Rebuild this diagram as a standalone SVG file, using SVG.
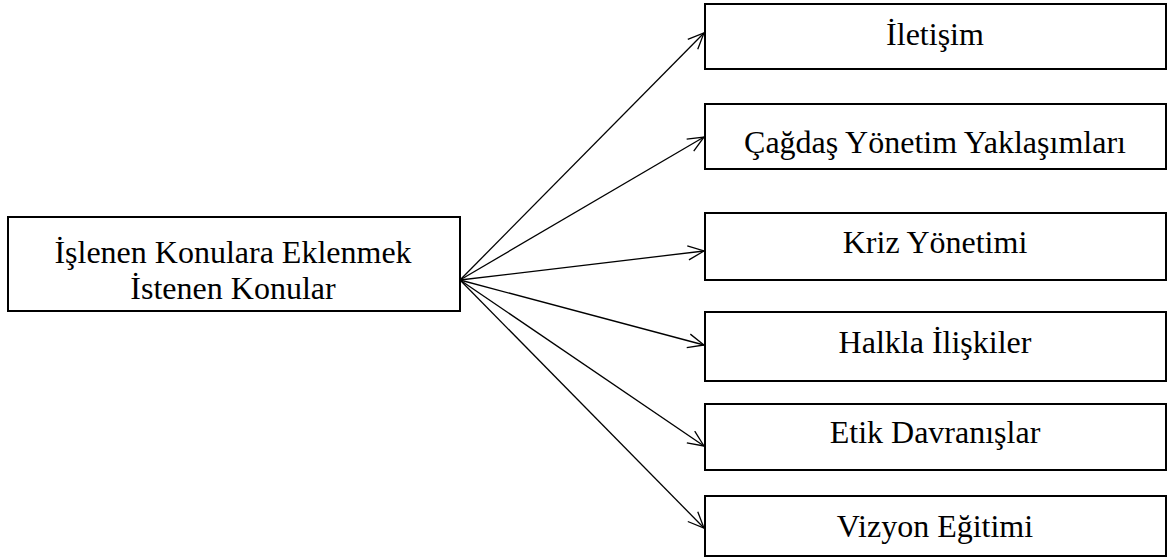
<svg xmlns="http://www.w3.org/2000/svg" width="1168" height="558" viewBox="0 0 1168 558">
<style>
.box{fill:#fff;stroke:#000;stroke-width:2}
.t{font-family:"Liberation Serif","Times New Roman",serif;font-size:32px;fill:#000;text-anchor:middle}
.c{stroke:#000;stroke-width:1.3;fill:none}
</style>
<defs>
<marker id="ah" viewBox="0 0 18 16" refX="17" refY="8" markerWidth="18" markerHeight="16" markerUnits="userSpaceOnUse" orient="auto">
<polyline points="1,1 17,8 1,15" fill="none" stroke="#000" stroke-width="1.3"/>
</marker>
</defs>
<rect width="1168" height="558" fill="#fff"/>
<g id="connectors">
<line class="c" x1="460" y1="280" x2="704" y2="33" marker-end="url(#ah)"/>
<line class="c" x1="460" y1="280" x2="704" y2="137" marker-end="url(#ah)"/>
<line class="c" x1="460" y1="280" x2="704" y2="251" marker-end="url(#ah)"/>
<line class="c" x1="460" y1="280" x2="704" y2="345" marker-end="url(#ah)"/>
<line class="c" x1="460" y1="280" x2="704" y2="446" marker-end="url(#ah)"/>
<line class="c" x1="460" y1="280" x2="704" y2="528" marker-end="url(#ah)"/>
</g>
<g id="source">
<rect class="box" x="8" y="217" width="452" height="94"/>
<text class="t" x="233" y="262.5">İşlenen Konulara Eklenmek</text>
<text class="t" x="233" y="298.5">İstenen Konular</text>
</g>
<g id="n1">
<rect class="box" x="705" y="4" width="461" height="65"/>
<text class="t" x="935" y="45">İletişim</text>
</g>
<g id="n2">
<rect class="box" x="705" y="104" width="461" height="65"/>
<text class="t" x="935" y="153">Çağdaş Yönetim Yaklaşımları</text>
</g>
<g id="n3">
<rect class="box" x="705" y="213" width="461" height="67"/>
<text class="t" x="935" y="253">Kriz Yönetimi</text>
</g>
<g id="n4">
<rect class="box" x="705" y="312" width="461" height="69"/>
<text class="t" x="935" y="353">Halkla İlişkiler</text>
</g>
<g id="n5">
<rect class="box" x="705" y="404" width="461" height="66"/>
<text class="t" x="935" y="443">Etik Davranışlar</text>
</g>
<g id="n6">
<rect class="box" x="705" y="496" width="461" height="60"/>
<text class="t" x="935" y="537">Vizyon Eğitimi</text>
</g>
</svg>
